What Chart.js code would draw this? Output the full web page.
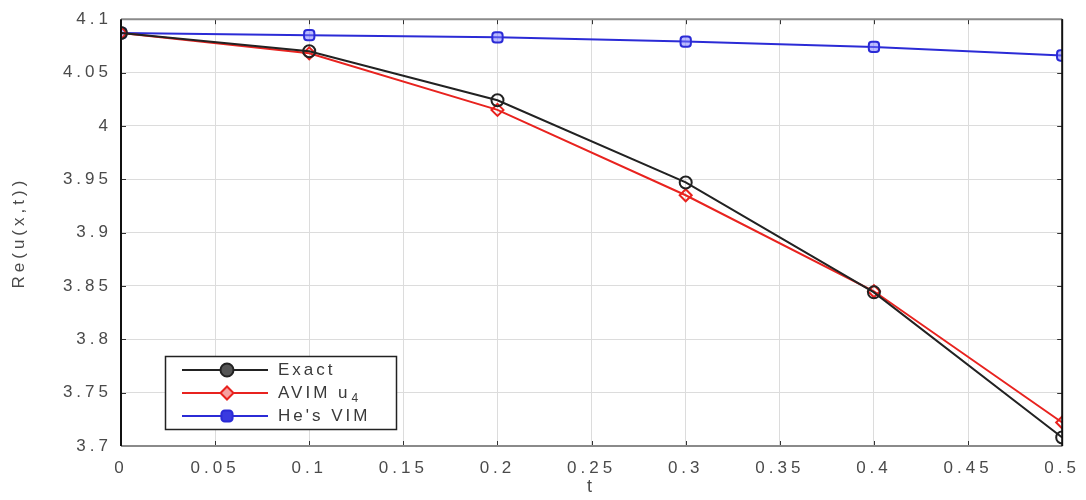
<!DOCTYPE html>
<html><head><meta charset="utf-8">
<script src="https://cdn.jsdelivr.net/npm/chart.js@4"></script>
<style>html,body{margin:0;padding:0;background:#fff}#w{width:1086px;height:500px}</style>
</head><body><div id="w"><canvas id="c" width="1086" height="500"></canvas></div>
<script>
const tValues = [0, 0.1, 0.2, 0.3, 0.4, 0.5];
const exactValues = [4.087, 4.070, 4.024, 3.947, 3.844, 3.708];
const avimValues = [4.087, 4.068, 4.015, 3.935, 3.845, 3.722];
const heVimValues = [4.087, 4.085, 4.083, 4.079, 4.074, 4.066];
const seriesNames = ['Exact', 'AVIM u', "He's VIM"];
const xTicks = [0,0.05,0.1,0.15,0.2,0.25,0.3,0.35,0.4,0.45,0.5];
const yTicks = [3.7,3.75,3.8,3.85,3.9,3.95,4,4.05,4.1];

const FONT = '"Liberation Sans", Arial, sans-serif';
function pts(vals){ return tValues.map((t,i)=>({x:t,y:vals[i]})); }

const styles = [
  {color:'#222222', style:'circle', bg:'rgba(255,255,255,0)', lg:'#555'},
  {color:'#e8231f', style:'rectRot', bg:'rgba(255,255,255,0)', lg:'#f6a0a0'},
  {color:'#2b2bd6', style:'rectRounded', bg:'rgba(120,120,255,0.5)', lg:'#3a3ae0'}
];

const spacing = {
  id:'spacing',
  beforeDraw(chart){ chart.ctx.letterSpacing = '4px'; },
  beforeDatasetsDraw(chart){ chart.ctx.letterSpacing = '0px'; }
};

const frame = {
  id:'frame',
  afterDraw(chart){
    const {ctx, chartArea:a, scales:{x,y}} = chart;
    ctx.save();
    ctx.letterSpacing='0px';
    ctx.strokeStyle='#333'; ctx.lineWidth=1;
    xTicks.forEach(v=>{ const px=Math.round(x.getPixelForValue(v))+0.5;
      ctx.beginPath(); ctx.moveTo(px,a.bottom); ctx.lineTo(px,a.bottom-5); ctx.stroke();
      ctx.beginPath(); ctx.moveTo(px,a.top); ctx.lineTo(px,a.top+5); ctx.stroke(); });
    yTicks.forEach(v=>{ const py=Math.round(y.getPixelForValue(v))+0.5;
      ctx.beginPath(); ctx.moveTo(a.left,py); ctx.lineTo(a.left+5,py); ctx.stroke();
      ctx.beginPath(); ctx.moveTo(a.right,py); ctx.lineTo(a.right-5,py); ctx.stroke(); });
    ctx.lineWidth=2;
    ctx.strokeStyle='#8a8a8a';
    ctx.beginPath(); ctx.moveTo(a.left,a.top); ctx.lineTo(a.right,a.top); ctx.stroke();
    ctx.beginPath(); ctx.moveTo(a.left,a.bottom); ctx.lineTo(a.right,a.bottom); ctx.stroke();
    ctx.strokeStyle='#111';
    ctx.beginPath(); ctx.moveTo(a.left,a.top); ctx.lineTo(a.left,a.bottom); ctx.stroke();
    ctx.beginPath(); ctx.moveTo(a.right,a.top); ctx.lineTo(a.right,a.bottom); ctx.stroke();
    // legend box
    const bx=a.left+44, by=a.bottom-90, bw=231, bh=73;
    ctx.fillStyle='#fff'; ctx.fillRect(bx,by,bw,bh);
    ctx.lineWidth=1.5; ctx.strokeStyle='#222'; ctx.strokeRect(bx+0.5,by+0.5,bw,bh);
    chart.data.datasets.forEach((ds,i)=>{
      const ly = by+14+i*23;
      ctx.strokeStyle=ds.borderColor; ctx.lineWidth=2;
      ctx.beginPath(); ctx.moveTo(bx+17,ly); ctx.lineTo(bx+103,ly); ctx.stroke();
      ctx.fillStyle=styles[i].lg; ctx.strokeStyle=ds.borderColor; ctx.lineWidth=2;
      Chart.helpers.drawPoint(ctx,{pointStyle:ds.pointStyle,radius:6.5,rotation:0,borderWidth:2},bx+62,ly);
      ctx.fillStyle='#3a3a3a'; ctx.font='17px '+FONT; ctx.textBaseline='middle'; ctx.textAlign='left';
      ctx.letterSpacing='3px';
      ctx.fillText(seriesNames[i], bx+113, ly);
      if(i===1){ const w=ctx.measureText(seriesNames[i]).width; ctx.font='12px '+FONT; ctx.fillText('4', bx+114+w, ly+6); }
      ctx.letterSpacing='0px';
    });
    ctx.restore();
  }
};

new Chart(document.getElementById('c'), {
  type:'line',
  data:{ datasets:[exactValues, avimValues, heVimValues].map((v,i)=>({
    label: seriesNames[i], data: pts(v),
    borderColor: styles[i].color, backgroundColor: styles[i].bg,
    pointBackgroundColor: styles[i].bg, pointBorderColor: styles[i].color,
    pointStyle: styles[i].style, pointRadius: 6, pointBorderWidth: 2,
    borderWidth: 2, tension: 0, fill:false
  })) },
  options:{
    responsive:false, animation:false, devicePixelRatio:1,
    layout:{padding:{left:0, right:19, top:19, bottom:0}},
    plugins:{legend:{display:false}, tooltip:{enabled:false}},
    scales:{
      x:{ type:'linear', min:0, max:0.5,
        afterBuildTicks(s){ s.ticks = xTicks.map(v=>({value:v})); },
        afterFit(s){ s.height = 54; },
        grid:{color:'#dcdcdc', lineWidth:1, drawTicks:false},
        border:{display:false},
        ticks:{ color:'#4a4a4a', font:{family:FONT, size:17}, padding:12, maxRotation:0,
          callback:v=>String(+v.toFixed(2)) },
        title:{display:true, text:'t', color:'#4a4a4a', font:{family:FONT, size:18}, padding:{top:0,bottom:2}}
      },
      y:{ type:'linear', min:3.7, max:4.1,
        afterBuildTicks(s){ s.ticks = yTicks.map(v=>({value:v})); },
        afterFit(s){ s.width = 121; },
        grid:{color:'#dcdcdc', lineWidth:1, drawTicks:false},
        border:{display:false},
        ticks:{ color:'#4a4a4a', font:{family:FONT, size:17}, padding:9,
          callback:v=>String(+v.toFixed(2)) },
        title:{display:true, text:'Re(u(x,t))', color:'#4a4a4a', font:{family:FONT, size:17}, padding:{top:9,bottom:0}}
      }
    }
  },
  plugins:[spacing, frame]
});
</script></body></html>
